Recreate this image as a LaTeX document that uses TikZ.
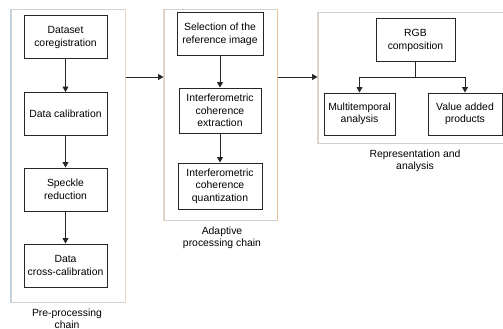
\documentclass[tikz,border=0pt]{standalone}
\usepackage{fontspec}
\setmainfont{Liberation Sans}
\usetikzlibrary{arrows.meta}
\definecolor{edgeb}{HTML}{B8D2EA}
\definecolor{edget}{HTML}{EAD6C2}
\definecolor{edgeo}{HTML}{E6C49C}
\tikzset{
  box/.style={draw=black!85,line width=1pt,align=center,inner sep=1pt,font=\fontsize{10.4}{12.5}\selectfont},
  panel/.style={draw=black!18,line width=1pt},
  lbl/.style={align=center,inner sep=0pt,font=\fontsize{10.4}{12.5}\selectfont},
  arr/.style={-{Triangle[length=5.5pt,width=6pt]},line width=.8pt,black!85}
}
\begin{document}
\begin{tikzpicture}[x=1pt,y=-1pt]
\clip(0,0) rectangle (503,329);
% panels
\node[panel,minimum width=114,minimum height=292](p1) at(68,156){};
\node[panel,minimum width=113,minimum height=210](p2) at(220.5,115){};
\node[panel,minimum width=200,minimum height=130](p3) at(418,78){};
\draw[edgeb,line width=1pt](p1.north west)--(p1.south west);
\draw[edget,line width=1pt](p1.north east)--(p1.south east);
\draw[edget,line width=1pt](p2.north west)--(p2.south west);
\draw[edgeo,line width=1pt](p2.north east)--(p2.south east);
\draw[edget,line width=1pt](p3.north west)--(p3.south west);
% pre-processing chain
\node[box,minimum width=83,minimum height=43](a1) at(65.5,37.5){Dataset\\coregistration};
\node[box,minimum width=83,minimum height=43](a2) at(65.5,114){Data calibration};
\node[box,minimum width=83,minimum height=43](a3) at(65.5,189.5){Speckle\\reduction};
\node[box,minimum width=83,minimum height=43](a4) at(65.5,265.5){Data\\cross-calibration};
\node[lbl](l1) at(67,319){Pre-processing\\chain};
% adaptive processing chain
\node[box,minimum width=86,minimum height=43](b1) at(220,34.5){Selection of the\\reference image};
\node[box,minimum width=82,minimum height=45](b2) at(220,110.5){Interferometric\\coherence\\extraction};
\node[box,minimum width=84,minimum height=46](b3) at(220,186){Interferometric\\coherence\\quantization};
\node[lbl](l2) at(222,238){Adaptive\\processing chain};
% representation and analysis
\node[box,minimum width=79,minimum height=43](c1) at(415.5,40.5){RGB\\composition};
\node[box,minimum width=71,minimum height=42](c2) at(359.5,114){Multitemporal\\analysis};
\node[box,minimum width=74,minimum height=42](c3) at(465,114){Value added\\products};
\node[lbl](l3) at(415,161){Representation and\\analysis};
% connectors
\foreach \u/\v in {a1/a2,a2/a3,a3/a4,b1/b2,b2/b3}{\draw[arr](\u)--(\v);}
\coordinate(m) at(0,77);
\draw[arr](p1.east|-m)--(p2.west|-m);
\draw[arr](p2.east|-m)--(p3.west|-m);
\draw[arr](c1.south)--++(0,15)-|(c2.north);
\draw[arr](c1.south)--++(0,15)-|(c3.north);
\end{tikzpicture}
\end{document}
